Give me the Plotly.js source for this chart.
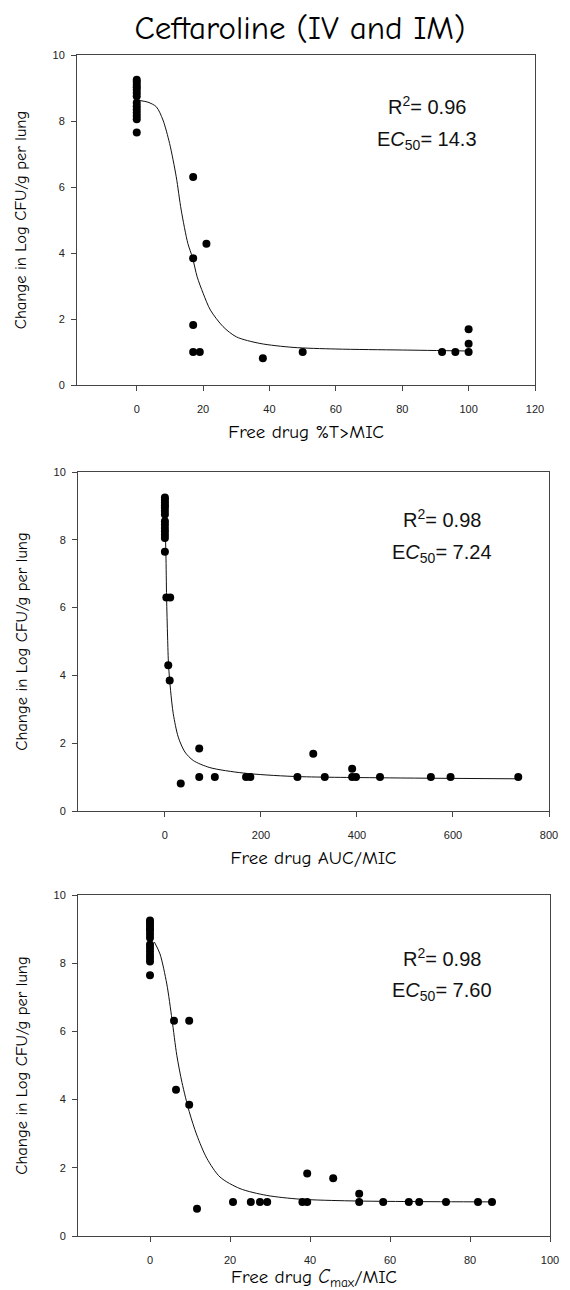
<!DOCTYPE html>
<html>
<head>
<meta charset="utf-8">
<script src="https://cdn.plot.ly/plotly-3.0.1.min.js"></script>
<style>
  html, body { margin: 0; padding: 0; background: #fff; }
  #chart { width: 570px; height: 1290px; }
</style>
</head>
<body>
<div id="chart"></div>
<script>
// ---------- DATA ----------
// Untreated controls (x = 0) – same animals in all three panels
const controlY = [9.25, 9.18, 9.1, 9.02, 8.95, 8.85, 8.75, 8.55, 8.45, 8.35, 8.25, 8.15, 8.05, 7.65];

// Panel 1: free drug %T>MIC
const tmicX = [17, 21, 17, 17, 17, 19, 38, 50, 92, 96, 100, 100, 100];
const tmicY = [6.3, 4.28, 3.84, 1.82, 1.0, 1.0, 0.81, 1.0, 1.0, 1.0, 1.0, 1.25, 1.69];
const tmicFitX = [0.9, 3.4, 5.9, 7.9, 9.9, 11.9, 13.4, 15.4, 16.8, 18.2, 20.0, 22.2, 26.0, 30.0, 37.1, 47.1, 60, 80, 100];
const tmicFitY = [8.62, 8.57, 8.43, 8.03, 7.32, 6.31, 5.30, 4.29, 3.86, 3.28, 2.78, 2.27, 1.77, 1.46, 1.26, 1.14, 1.09, 1.06, 1.03];

// Panel 2: free drug AUC/MIC
const aucX = [3, 11, 7, 10, 33, 71.5, 71.5, 104, 169, 178, 276, 309, 333, 390, 390, 398, 448, 554, 595, 736];
const aucY = [6.3, 6.3, 4.3, 3.85, 0.81, 1.84, 1.0, 1.0, 1.0, 1.0, 1.0, 1.69, 1.0, 1.25, 1.0, 1.0, 1.0, 1.0, 1.0, 1.0];
const aucFitX = [0, 2.1, 3.5, 5.6, 7.6, 11.8, 17.4, 27.8, 41.7, 59, 93.75, 163, 267, 448, 736];
const aucFitY = [8.6, 7.59, 6.31, 5.13, 4.3, 3.56, 2.87, 2.18, 1.74, 1.49, 1.28, 1.12, 1.02, 0.98, 0.95];

// Panel 3: free drug Cmax/MIC
const cmaxX = [6.0, 9.8, 6.5, 9.8, 11.75, 20.75, 25.2, 27.5, 29.3, 38.1, 39.3, 39.3, 45.8, 52.3, 52.3, 58.3, 64.7, 67.3, 74.0, 82.0, 85.5];
const cmaxY = [6.31, 6.31, 4.29, 3.85, 0.80, 1.0, 1.0, 1.0, 1.0, 1.0, 1.0, 1.83, 1.69, 1.24, 1.0, 1.0, 1.0, 1.0, 1.0, 1.0, 1.0];
const cmaxFitX = [1.1, 2.5, 4.2, 5.5, 6.7, 8.0, 9.8, 11.7, 14.2, 17.5, 22.5, 29.2, 37.5, 50, 65, 85.5];
const cmaxFitY = [8.62, 8.27, 7.39, 6.35, 5.3, 4.5, 3.65, 2.96, 2.28, 1.73, 1.39, 1.19, 1.08, 1.03, 1.01, 1.0];

// Fit statistics
const fitR2 = ["0.96", "0.98", "0.98"];
const fitEC50 = ["14.3", "7.24", "7.60"];

// Axis labels
const mainTitle = "Ceftaroline (IV and IM)";
const xTitles = ["Free drug %T>MIC", "Free drug AUC/MIC", "Free drug <i>C</i><sub>max</sub>/MIC"];
const yTitle = "Change in Log CFU/g per lung";

// ---------- BUILD ----------
const comic = "'Comic Sans MS', 'Comic Neue', 'Open Sans', sans-serif";
const arial = "'Liberation Sans', Arial, sans-serif";

function zeros(n) { return new Array(n).fill(0); }

const panels = [
  {x: tmicX, y: tmicY, fx: tmicFitX, fy: tmicFitY},
  {x: aucX, y: aucY, fx: aucFitX, fy: aucFitY},
  {x: cmaxX, y: cmaxY, fx: cmaxFitX, fy: cmaxFitY}
];

const traces = [];
panels.forEach((p, i) => {
  const xa = i === 0 ? 'x' : 'x' + (i + 1);
  const ya = i === 0 ? 'y' : 'y' + (i + 1);
  traces.push({
    type: 'scatter', mode: 'lines', x: p.fx, y: p.fy, xaxis: xa, yaxis: ya,
    line: {color: '#111', width: 1, shape: 'spline', smoothing: 0.8},
    hoverinfo: 'skip', showlegend: false
  });
  traces.push({
    type: 'scatter', mode: 'markers',
    x: zeros(controlY.length).concat(p.x), y: controlY.concat(p.y),
    xaxis: xa, yaxis: ya,
    marker: {color: '#000', size: 8}, showlegend: false
  });
});

const W = 570, H = 1290;
const boxes = [
  {l: 77, r: 535, t: 55, b: 385, range: [-18, 120], dtick: 20},
  {l: 78, r: 549, t: 472, b: 811, range: [-181, 800], dtick: 200},
  {l: 78, r: 550, t: 895, b: 1236, range: [-18, 100], dtick: 20}
];

const layout = {
  width: W, height: H,
  margin: {l: 0, r: 0, t: 0, b: 0},
  paper_bgcolor: '#fff', plot_bgcolor: '#fff',
  showlegend: false,
  title: {
    text: mainTitle, font: {family: comic, size: 33, color: '#000'},
    x: 300 / W, xanchor: 'center', xref: 'paper',
    y: 1 - 27 / H, yanchor: 'middle', yref: 'container'
  },
  annotations: []
};

boxes.forEach((bx, i) => {
  const sx = i === 0 ? '' : String(i + 1);
  layout['xaxis' + sx] = {
    domain: [bx.l / W, bx.r / W], anchor: 'y' + sx,
    range: bx.range, dtick: bx.dtick, tick0: 0,
    ticks: 'outside', ticklen: 5, tickcolor: '#444', tickwidth: 1,
    showline: true, linecolor: '#444', linewidth: 1, mirror: true,
    showgrid: false, zeroline: false,
    tickfont: {family: arial, size: 11, color: '#222'},
    ticklabelstandoff: 9,
    title: {text: xTitles[i], font: {family: comic, size: 19, color: '#000'}, standoff: 10}
  };
  layout['yaxis' + sx] = {
    domain: [1 - bx.b / H, 1 - bx.t / H], anchor: 'x' + sx,
    range: [0, 10], dtick: 2, tick0: 0,
    ticks: 'outside', ticklen: 5, tickcolor: '#444', tickwidth: 1,
    showline: true, linecolor: '#444', linewidth: 1, mirror: true,
    showgrid: false, zeroline: false,
    tickfont: {family: arial, size: 11, color: '#222'},
    ticklabelstandoff: 4,
    title: {text: yTitle, font: {family: comic, size: 16.5, color: '#000'}, standoff: 21}
  };
});

// Annotation positions (data coords of each panel)
const annX = [87.6, 577, 73];
const annR2Y = [8.48, 8.64, 8.18];
const annECY = [7.42, 7.61, 7.16];
boxes.forEach((bx, i) => {
  const sx = i === 0 ? '' : String(i + 1);
  layout.annotations.push({
    xref: 'x' + sx, yref: 'y' + sx, x: annX[i], y: annR2Y[i],
    text: 'R<sup>2</sup>= ' + fitR2[i], showarrow: false,
    font: {family: arial, size: 20, color: '#111'}, xanchor: 'center', yanchor: 'middle'
  });
  layout.annotations.push({
    xref: 'x' + sx, yref: 'y' + sx, x: annX[i], y: annECY[i],
    text: 'E<i>C</i><sub>50</sub>= ' + fitEC50[i], showarrow: false,
    font: {family: arial, size: 20, color: '#111'}, xanchor: 'center', yanchor: 'middle'
  });
});

Plotly.newPlot('chart', traces, layout, {displayModeBar: false, staticPlot: true});
</script>
</body>
</html>
